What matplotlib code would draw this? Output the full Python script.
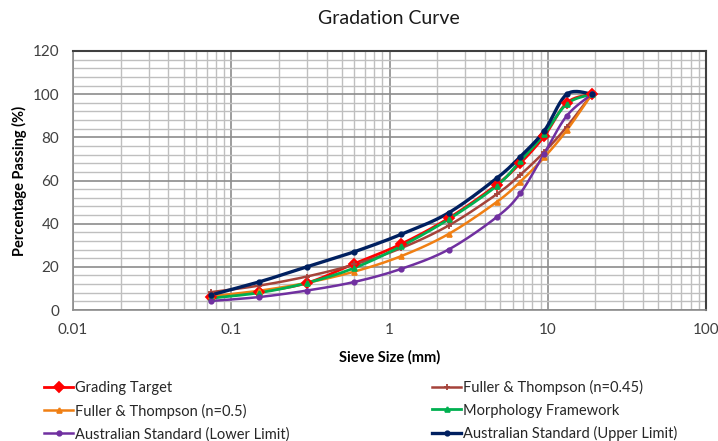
import numpy as np
import matplotlib
matplotlib.use("Agg")
import matplotlib.pyplot as plt
from matplotlib.ticker import FixedLocator, NullFormatter, MultipleLocator

plt.rcParams['font.family'] = ['Lato', 'DejaVu Sans']

sieve = [0.075, 0.15, 0.3, 0.6, 1.18, 2.36, 4.75, 6.7, 9.5, 13.2, 19]
grading_target = [6, 8.5, 12.5, 21.5, 30.5, 42.5, 58, 68, 80.5, 96, 100]
fuller_045 = [8.3, 11.3, 15.5, 21.1, 28.6, 39.1, 53.6, 62.6, 73.2, 84.9, 100]
fuller_05 = [6.3, 8.9, 12.6, 17.8, 24.9, 35.2, 50, 59.4, 70.7, 83.3, 100]
morphology = [5.5, 8, 12.5, 19.5, 29.5, 42, 57.5, 69, 81.5, 95.5, 100]
aus_lower = [4.2, 6, 9, 13, 19, 28, 43, 54, 72.5, 90, 100]
aus_upper = [7, 13, 20, 27, 35, 45, 61, 71, 83, 100, 100]

series = [
    ("Grading Target", grading_target, "#FF0000", "D", 5, 2.0),
    ("Fuller & Thompson (n=0.45)", fuller_045, "#A5433A", "+", 4, 1.8),
    ("Fuller & Thompson (n=0.5)", fuller_05, "#F07F13", "^", 3.5, 1.8),
    ("Morphology Framework", morphology, "#00B050", "^", 3.5, 2.0),
    ("Australian Standard (Lower Limit)", aus_lower, "#7030A0", "o", 3.2, 1.8),
    ("Australian Standard (Upper Limit)", aus_upper, "#002060", "o", 3.2, 2.4),
]

fig = plt.figure(figsize=(7.18, 4.41), dpi=100)
ax = fig.add_axes([73/718, 1-310/441, (706-73)/718, (310-51)/441])
ax.set_xscale('log')
ax.set_xlim(0.01, 100)
ax.set_ylim(0, 120)


def smooth(xs, ys, n=20, t=0.5):
    # Excel-like smoothed line (Catmull-Rom) in display-like coordinates
    u = np.log10(np.asarray(xs, float)) * 158.5
    v = np.asarray(ys, float) * 2.16
    P = np.column_stack([u, v])
    out = [P[0]]
    for i in range(len(P) - 1):
        p0 = P[i - 1] if i > 0 else P[i]
        p1 = P[i]
        p2 = P[i + 1]
        p3 = P[i + 2] if i + 2 < len(P) else P[i + 1]
        c1 = p1 + (p2 - p0) * t / 3
        c2 = p2 - (p3 - p1) * t / 3
        s = np.linspace(0, 1, n)[1:, None]
        B = ((1 - s) ** 3) * p1 + 3 * ((1 - s) ** 2) * s * c1 + 3 * (1 - s) * s ** 2 * c2 + s ** 3 * p2
        out.extend(B)
    out = np.array(out)
    return 10 ** (out[:, 0] / 158.5), out[:, 1] / 2.16


handles = []
for name, vals, col, mk, ms, lw in series:
    sx, sy = smooth(sieve, vals)
    ax.plot(sx, sy, color=col, lw=lw, zorder=3)
    ax.plot(sieve, vals, linestyle='none', marker=mk, color=col, ms=ms,
            mew=1.3, zorder=4)
    h, = ax.plot([], [], color=col, lw=lw, marker=mk, ms=ms, mew=1.3)
    handles.append((h, name))

ax.yaxis.set_major_locator(MultipleLocator(20))
ax.yaxis.set_minor_locator(MultipleLocator(4))
ax.xaxis.set_major_locator(FixedLocator([0.01, 0.1, 1, 10, 100]))
minors = [m * 10.0 ** e for e in range(-2, 2) for m in range(2, 10)]
ax.xaxis.set_minor_locator(FixedLocator(minors))
ax.xaxis.set_minor_formatter(NullFormatter())
ax.set_xticklabels(['0.01', '0.1', '1', '10', '100'])

ax.grid(which='major', color='#8C8C8C', lw=1.2, zorder=0)
ax.grid(which='minor', color='#BFBFBF', lw=1.0, zorder=0)
ax.tick_params(which='both', length=0, labelsize=11, colors='#404040', pad=9)
ax.tick_params(axis='y', pad=10)
for s in ['top', 'right']:
    ax.spines[s].set_color('#404040')
    ax.spines[s].set_linewidth(1.5)
for s in ['left', 'bottom']:
    ax.spines[s].set_color('#8C8C8C')
    ax.spines[s].set_linewidth(1.2)

ax.set_xlabel('Sieve Size (mm)', fontsize=10.5, fontweight='bold', labelpad=10)
ax.set_ylabel('Percentage Passing (%)', fontsize=10.5, fontweight='bold', labelpad=4)
fig.text(389/718, 1-19/441, 'Gradation Curve', ha='center', va='center',
         fontsize=14, color='#1a1a1a')

# legend: row-major order in two columns
order = [0, 2, 4, 1, 3, 5]
leg = fig.legend([handles[i][0] for i in order], [handles[i][1] for i in order],
                 ncol=2, loc='upper left', bbox_to_anchor=(44/718, 1-380/441),
                 frameon=False, fontsize=10.5, handlelength=2.0,
                 handletextpad=0.1, columnspacing=9.8, labelspacing=0.58,
                 borderaxespad=0, borderpad=0)
for t in leg.get_texts():
    t.set_color('#262626')

fig.savefig('out.png', dpi=100)
